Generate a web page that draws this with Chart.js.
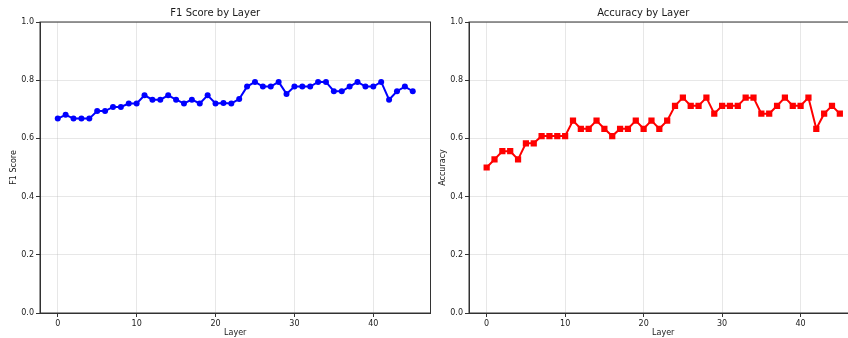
<!DOCTYPE html>
<html>
<head>
<meta charset="utf-8">
<script src="https://cdn.jsdelivr.net/npm/chart.js@4"></script>
<style>
  html, body { margin: 0; padding: 0; background: #fff; overflow: hidden; width: 848px; height: 338px; }
  .panel { position: absolute; top: 0; }
  #f1Panel { left: 0; }
  #accPanel { left: 429px; }
</style>
</head>
<body>
<div class="panel" id="f1Panel"><canvas id="f1Chart" width="440" height="338"></canvas></div>
<div class="panel" id="accPanel"><canvas id="accChart" width="438" height="338"></canvas></div>
<script>
// values
const layers = [0, 1, 2, 3, 4, 5, 6, 7, 8, 9, 10, 11, 12, 13, 14, 15, 16, 17, 18, 19, 20, 21, 22,
  23, 24, 25, 26, 27, 28, 29, 30, 31, 32, 33, 34, 35, 36, 37, 38, 39, 40, 41, 42, 43, 44, 45];
const f1Scores = [0.668, 0.681, 0.668, 0.668, 0.668, 0.694, 0.694, 0.708, 0.708, 0.72, 0.72,
  0.748, 0.733, 0.733, 0.748, 0.733, 0.72, 0.733, 0.72, 0.748, 0.72, 0.722, 0.72, 0.735,
  0.778, 0.794, 0.778, 0.778, 0.794, 0.753, 0.778, 0.778, 0.778, 0.794, 0.794, 0.762, 0.762,
  0.778, 0.794, 0.778, 0.778, 0.794, 0.733, 0.762, 0.778, 0.762];
const accuracies = [0.5, 0.528, 0.556, 0.556, 0.528, 0.583, 0.583, 0.608, 0.608, 0.608, 0.608,
  0.661, 0.633, 0.633, 0.661, 0.633, 0.608, 0.633, 0.633, 0.661, 0.633, 0.661, 0.633, 0.661,
  0.712, 0.74, 0.712, 0.712, 0.74, 0.685, 0.712, 0.712, 0.712, 0.74, 0.74, 0.685, 0.685,
  0.712, 0.74, 0.712, 0.712, 0.74, 0.633, 0.685, 0.712, 0.685];
const xTicks = [0, 10, 20, 30, 40];
const yTicks = [0, 0.2, 0.4, 0.6, 0.8, 1.0];

const FONT = 'DejaVu Sans';
const TEXT = '#1a1a1a';
const AXIS = '#333';
const GRID = 'rgba(176, 176, 176, 0.3)';

Chart.defaults.font.family = FONT;
Chart.defaults.color = TEXT;

// matplotlib-style box around the plot area
const framePlugin = {
  id: 'frame',
  afterDatasetsDraw(chart) {
    const { ctx, chartArea: { left, top, right, bottom } } = chart;
    ctx.save();
    ctx.strokeStyle = AXIS;
    ctx.lineWidth = 1;
    ctx.strokeRect(left, top, right - left, bottom - top);
    ctx.restore();
  },
};

function makeChart(canvas, title, yLabel, values, color, pointStyle, pointRadius) {
  return new Chart(canvas, {
    type: 'line',
    data: {
      datasets: [{
        data: layers.map((l, i) => ({ x: l, y: values[i] })),
        borderColor: color,
        backgroundColor: color,
        borderWidth: 2,
        pointStyle,
        pointRadius,
        pointBorderWidth: 0,
        tension: 0,
      }],
    },
    plugins: [framePlugin],
    options: {
      responsive: false,
      animation: false,
      layout: { padding: { left: 0, right: 9.5, top: 0, bottom: 0 } },
      plugins: {
        legend: { display: false },
        tooltip: { enabled: false },
        title: {
          display: true,
          text: title,
          color: TEXT,
          font: { size: 10, weight: 'normal' },
          padding: { top: 7.5, bottom: 2.5 },
        },
      },
      scales: {
        x: {
          type: 'linear',
          min: -2.25,
          max: 47.25,
          afterBuildTicks: (s) => { s.ticks = xTicks.map((v) => ({ value: v })); },
          afterFit: (s) => { s.height = 25; },
          grid: { color: GRID, tickColor: AXIS, tickLength: 4 },
          border: { color: AXIS, width: 1 },
          ticks: { color: TEXT, font: { size: 8 }, padding: 2, maxRotation: 0 },
          title: { display: true, text: 'Layer', color: TEXT, font: { size: 8 }, padding: { top: 0, bottom: 0 } },
        },
        y: {
          min: 0,
          max: 1,
          afterBuildTicks: (s) => { s.ticks = yTicks.map((v) => ({ value: v })); },
          afterFit: (s) => { s.width = 40; },
          grid: { color: GRID, tickColor: AXIS, tickLength: 4 },
          border: { color: AXIS, width: 1 },
          ticks: { color: TEXT, font: { size: 8 }, padding: 2, callback: (v) => v.toFixed(1) },
          title: { display: true, text: yLabel, color: TEXT, font: { size: 8 }, padding: { top: 9.5, bottom: 0 } },
        },
      },
    },
  });
}

makeChart(document.getElementById('f1Chart'), 'F1 Score by Layer', 'F1 Score', f1Scores, '#0000ff', 'circle', 3);
makeChart(document.getElementById('accChart'), 'Accuracy by Layer', 'Accuracy', accuracies, '#ff0000', 'rect', 4.4);
</script>
</body>
</html>
